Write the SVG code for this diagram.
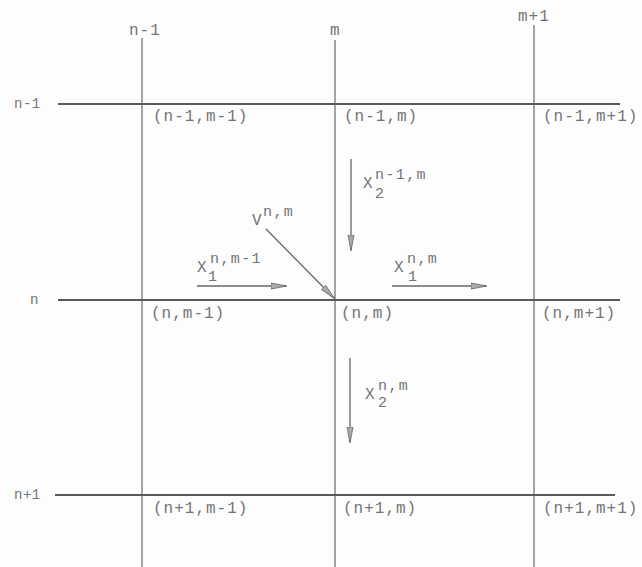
<svg xmlns="http://www.w3.org/2000/svg" width="642" height="567" viewBox="0 0 642 567">
<defs>
<style>
.bg{fill:#fdfdfd}
.grid{stroke:#5a5a5a;fill:none}
.h{stroke-width:1.8}
.v{stroke-width:1.1}
.t{font-family:"Liberation Mono","DejaVu Sans Mono",monospace;font-size:16px;fill:#747474;letter-spacing:1px}
.r{font-size:14px;letter-spacing:0.5px}
.s{font-size:15px;letter-spacing:1.4px}
.arr{stroke:#666;stroke-width:1.3;fill:none;marker-end:url(#ah)}
</style>
<marker id="ah" viewBox="0 0 16 8" refX="15" refY="4" markerWidth="16" markerHeight="8" markerUnits="userSpaceOnUse" orient="auto">
<path d="M0,1 L16,4 L0,7 Z" fill="#aaa" stroke="#666" stroke-width="0.8"/>
</marker>
</defs>
<rect class="bg" x="0" y="0" width="642" height="567"/>
<g id="grid">
<line class="grid h" x1="58" y1="104" x2="620" y2="104"/>
<line class="grid h" x1="58" y1="300" x2="620" y2="300"/>
<line class="grid h" x1="55" y1="495" x2="615" y2="495"/>
<line class="grid v" x1="142" y1="38" x2="142" y2="567"/>
<line class="grid v" x1="335" y1="40" x2="335" y2="567"/>
<line class="grid v" x1="534" y1="25" x2="534" y2="567"/>
</g>
<g id="axis-labels">
<text class="t" x="129" y="35">n-1</text>
<text class="t" x="330" y="35">m</text>
<text class="t" x="518" y="21">m+1</text>
<text class="t r" x="14" y="108">n-1</text>
<text class="t r" x="30" y="304">n</text>
<text class="t r" x="14" y="499">n+1</text>
</g>
<g id="node-n-1-m-1"><text class="t" x="153" y="121">(n-1,m-1)</text></g>
<g id="node-n-1-m"><text class="t" x="344" y="121">(n-1,m)</text></g>
<g id="node-n-1-m+1"><text class="t" x="543" y="121">(n-1,m+1)</text></g>
<g id="node-n-m-1"><text class="t" x="151" y="318">(n,m-1)</text></g>
<g id="node-n-m"><text class="t" x="341" y="318">(n,m)</text></g>
<g id="node-n-m+1"><text class="t" x="542" y="318">(n,m+1)</text></g>
<g id="node-n+1-m-1"><text class="t" x="153" y="513">(n+1,m-1)</text></g>
<g id="node-n+1-m"><text class="t" x="343" y="513">(n+1,m)</text></g>
<g id="node-n+1-m+1"><text class="t" x="543" y="513">(n+1,m+1)</text></g>
<g id="connectors">
<line class="arr" x1="351" y1="159" x2="351" y2="250"/>
<line class="arr" x1="266" y1="229" x2="334" y2="298"/>
<line class="arr" x1="197" y1="286" x2="286" y2="286"/>
<line class="arr" x1="392" y1="286" x2="486" y2="286"/>
<line class="arr" x1="350" y1="358" x2="350" y2="442"/>
</g>
<g id="arrow-labels">
<text class="t" x="363" y="188">X</text>
<text class="t s" x="375" y="179">n-1,m</text>
<text class="t s" x="375" y="198">2</text>
<text class="t" x="252" y="225">V</text>
<text class="t s" x="263" y="216">n,m</text>
<text class="t" x="197" y="272">X</text>
<text class="t s" x="210" y="263">n,m-1</text>
<text class="t s" x="208" y="281">1</text>
<text class="t" x="394" y="272">X</text>
<text class="t s" x="407" y="263">n,m</text>
<text class="t s" x="408" y="281">1</text>
<text class="t" x="365" y="399">X</text>
<text class="t s" x="378" y="390">n,m</text>
<text class="t s" x="378" y="407">2</text>
</g>
</svg>
